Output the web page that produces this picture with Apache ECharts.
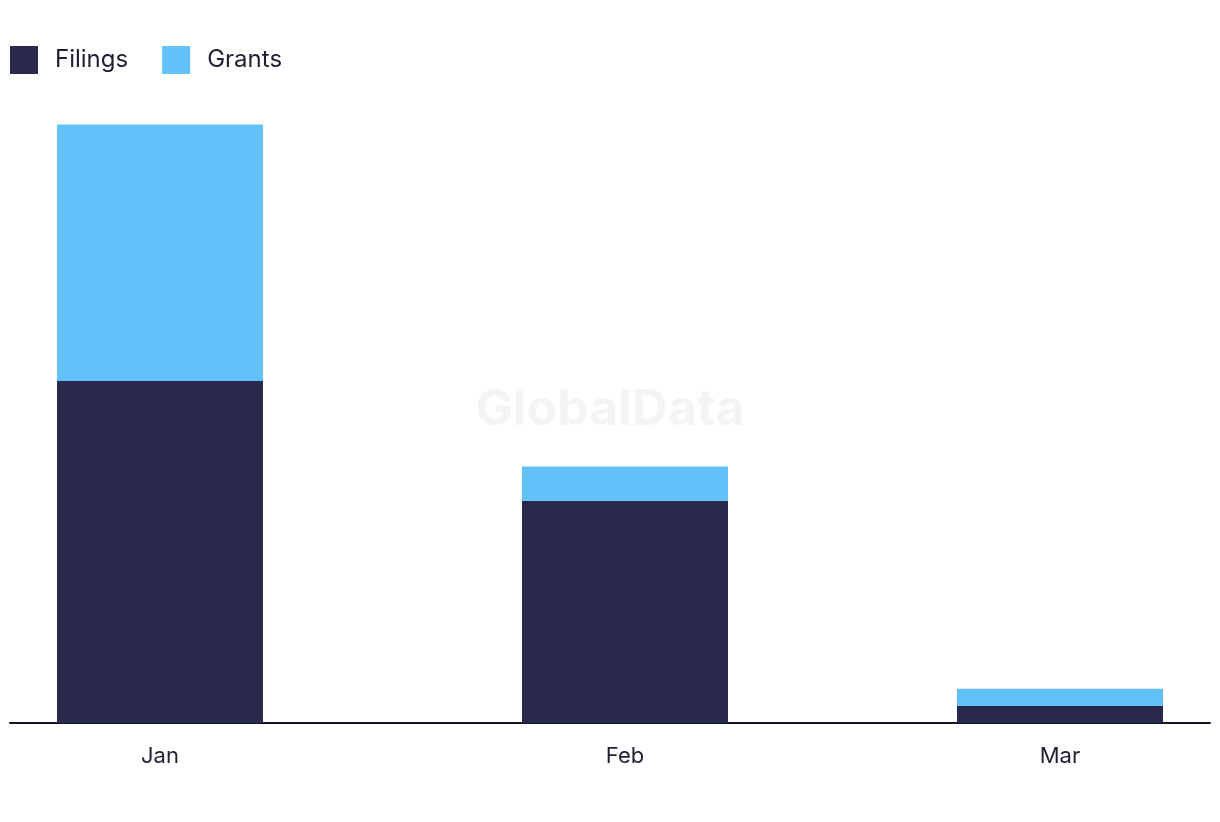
<!DOCTYPE html>
<html>
<head>
<meta charset="utf-8">
<script src="https://cdn.jsdelivr.net/npm/echarts@6/dist/echarts.min.js"></script>
<style>html,body{margin:0;padding:0;background:#fff;}#c{width:1220px;height:822px;}</style>
</head>
<body>
<div id="c"></div>
<script>
const months = ['2024-01-01', '2024-02-01', '2024-03-01'];
const monthLabels = ['Jan','Feb','Mar','Apr','May','Jun','Jul','Aug','Sep','Oct','Nov','Dec'];
const filings = [20, 13, 1];
const grants = [15, 2, 1];

const DAY = 86400000;
const axisMin = new Date('2024-01-01T00:00:00').getTime() - 3.133 * DAY;
const axisMax = new Date('2024-03-01T00:00:00').getTime() + 3.133 * DAY;

const chart = echarts.init(document.getElementById('c'));
const toPairs = arr => months.map((m, i) => [m, arr[i]]);
chart.setOption({
  animation: false,
  textStyle: { fontFamily: 'Inter, sans-serif' },
  legend: {
    left: 10, top: 46, padding: 0, itemWidth: 28, itemHeight: 28, itemGap: 34,
    icon: 'rect',
    textStyle: { fontSize: 24, color: '#1f1f33', padding: [0, 0, 0, 12], fontFamily: 'Inter, sans-serif' },
    data: ['Filings', 'Grants']
  },
  graphic: [{
    type: 'text', left: 'center', top: 385,
    style: { text: 'GlobalData', fontSize: 50, fontWeight: 'bold', fill: '#f4f4f4', fontFamily: 'Inter, sans-serif' },
    z: 0
  }],
  grid: { left: 10, right: 10, top: 39, bottom: 99, containLabel: false },
  xAxis: {
    type: 'time',
    min: axisMin, max: axisMax,
    axisLine: { show: true, lineStyle: { color: '#16162a', width: 2 } },
    axisTick: { show: false },
    splitLine: { show: false },
    axisLabel: {
      fontSize: 22, color: '#1f1f33', margin: 22, hideOverlap: false,
      formatter: v => { const d = new Date(v); return d.getDate() === 1 && d.getHours() === 0 ? monthLabels[d.getMonth()] : ''; }
    }
  },
  yAxis: { type: 'value', min: 0, max: 40, show: false, splitLine: { show: false } },
  series: [
    { name: 'Filings', type: 'bar', stack: 't', barWidth: 206, itemStyle: { color: '#29294c' }, data: toPairs(filings), z: 2 },
    { name: 'Grants', type: 'bar', stack: 't', barWidth: 206, itemStyle: { color: '#62c1f9' }, data: toPairs(grants), z: 2 }
  ]
});
</script>
</body>
</html>
